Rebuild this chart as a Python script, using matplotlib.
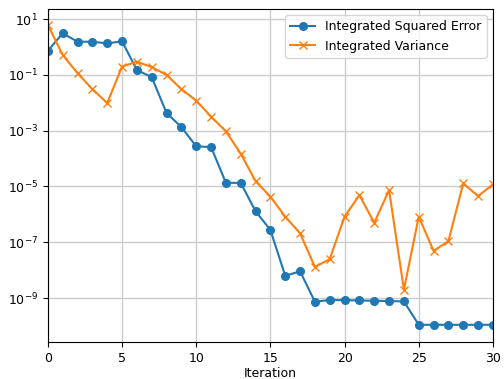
import numpy as np
import matplotlib
matplotlib.use("Agg")
import matplotlib.pyplot as plt

iterations = np.arange(31)
ise = [0.74, 3.1, 1.55, 1.55, 1.35, 1.6, 0.15, 0.083, 0.0043, 0.00135, 2.75e-4,
       2.6e-4, 1.35e-5, 1.35e-5, 1.3e-6, 2.75e-7, 6.3e-9, 9.1e-9, 7.4e-10, 8.5e-10,
       8.4e-10, 8.2e-10, 8.0e-10, 7.8e-10, 7.6e-10, 1.1e-10, 1.1e-10, 1.1e-10,
       1.1e-10, 1.1e-10, 1.1e-10]
ivar = [6.1, 0.52, 0.115, 0.031, 0.0098, 0.2, 0.30, 0.19, 0.1, 0.031, 0.012,
        0.0032, 9.5e-4, 1.5e-4, 1.55e-5, 4.3e-6, 8.3e-7, 2.1e-7, 1.3e-8, 2.5e-8,
        8.3e-7, 4.9e-6, 5e-7, 7.4e-6, 2e-9, 8.3e-7, 4.9e-8, 1.1e-7, 1.3e-5,
        4.5e-6, 1.2e-5]

plt.rcParams["font.size"] = 9
fig = plt.figure(figsize=(5.04, 3.79), dpi=100)
ax = fig.add_axes([0.095, 0.098, 0.883, 0.878])
ax.semilogy(iterations, ise, marker='o', markersize=5.5, label='Integrated Squared Error')
ax.semilogy(iterations, ivar, marker='x', markersize=5.5, label='Integrated Variance')
ax.set_xlim(0, 30)
ax.set_ylim(10**-10.57, 10**1.36)
ax.set_yticks([1e1, 1e-1, 1e-3, 1e-5, 1e-7, 1e-9])
ax.minorticks_off()
ax.grid(True, linewidth=1, color='#cccccc')
ax.set_xlabel('Iteration', labelpad=2)
ax.legend(loc='upper right')
fig.savefig('out.png', dpi=100)
